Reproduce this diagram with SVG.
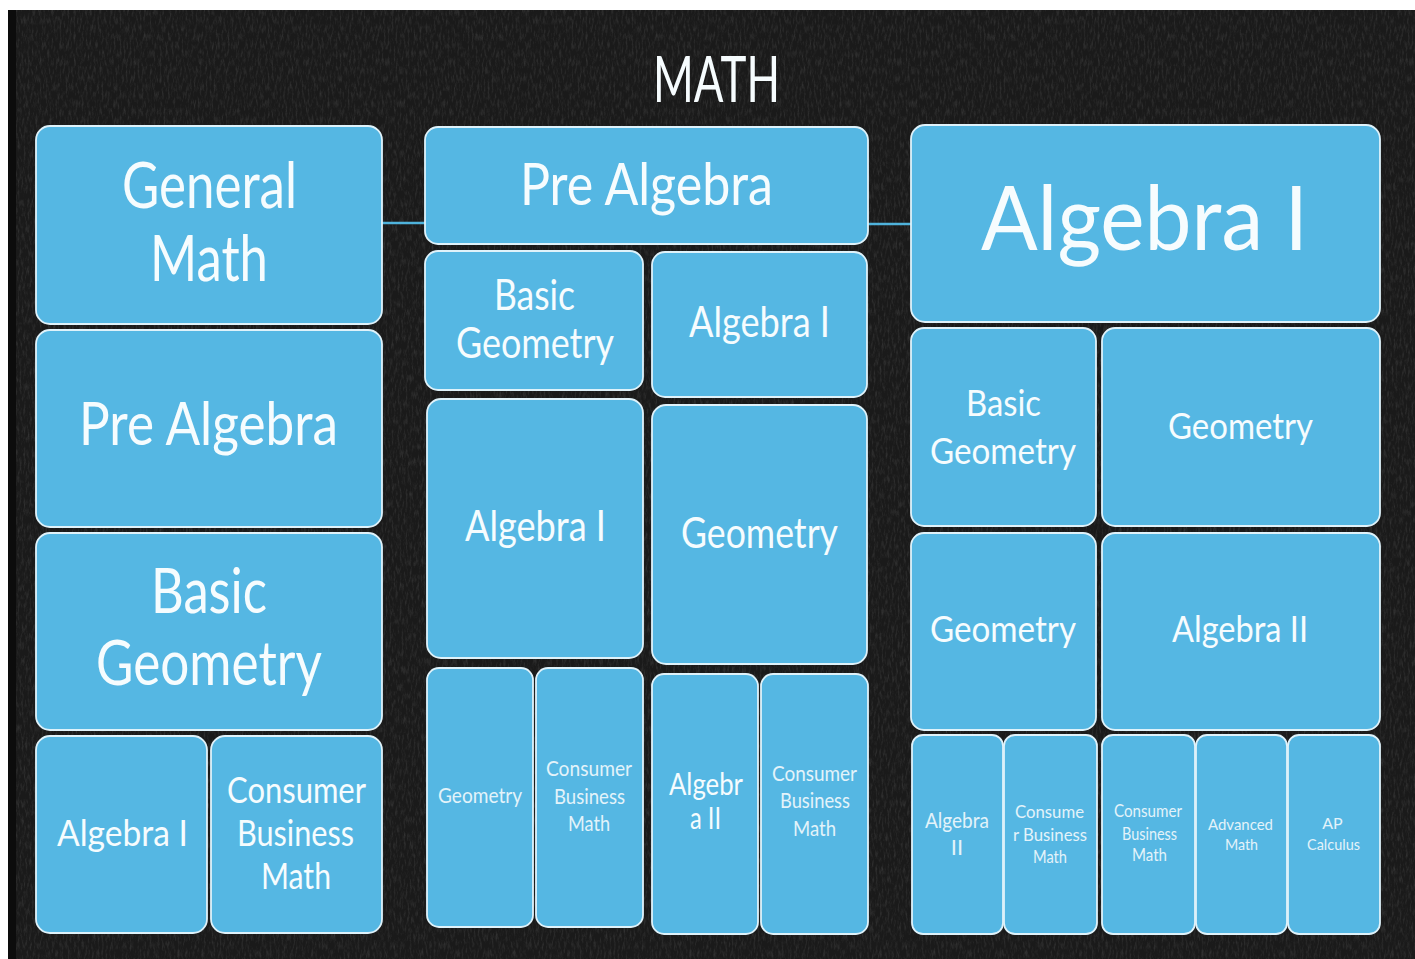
<svg xmlns="http://www.w3.org/2000/svg" width="1415" height="959" viewBox="0 0 1415 959">
<style>
.box{fill:#55b7e3;stroke:#dff2fa;stroke-width:1.8}
.t{font-family:Lato,"Open Sans","Liberation Sans",sans-serif;fill:#f6fcfe;text-anchor:middle}
.s{fill:#e3f3fa}
.conn{stroke:#4fb3dc;stroke-width:2.5;fill:none}
</style>
<defs>
<filter id="chalk" x="0" y="0" width="100%" height="100%">
<feTurbulence type="fractalNoise" baseFrequency="0.5 0.12" numOctaves="4" seed="7" result="n"/>
<feColorMatrix in="n" type="matrix" values="0 0 0 0 1  0 0 0 0 1  0 0 0 0 1  0 0 0 0.5 -0.22"/>
</filter>
</defs>
<rect x="0" y="0" width="1415" height="959" fill="#ffffff"/>
<rect x="8" y="10" width="1407" height="949" fill="#1a1a1a"/>
<rect x="8" y="10" width="1407" height="949" filter="url(#chalk)" opacity="0.45"/>
<rect x="8" y="10" width="8" height="949" fill="#0c0c0c"/>
<text class="t" x="716.5" y="102" font-size="63" textLength="127" lengthAdjust="spacingAndGlyphs">MATH</text>
<g id="connectors">
<line class="conn" x1="382" y1="223" x2="425" y2="223"/>
<line class="conn" x1="868" y1="224" x2="911" y2="224"/>
</g>
<g id="general-math"><rect class="box" x="36" y="126" width="346" height="198" rx="14"/>
<text class="t" x="209.5" y="208" font-size="63" textLength="175" lengthAdjust="spacingAndGlyphs">General</text>
<text class="t" x="209" y="281" font-size="63" textLength="118" lengthAdjust="spacingAndGlyphs">Math</text></g>
<g id="l-pre-algebra"><rect class="box" x="36" y="330" width="346" height="197" rx="14"/>
<text class="t" x="208.5" y="445" font-size="60" textLength="259" lengthAdjust="spacingAndGlyphs">Pre Algebra</text></g>
<g id="l-basic-geometry"><rect class="box" x="36" y="533" width="346" height="197" rx="14"/>
<text class="t" x="209" y="613" font-size="62" textLength="116" lengthAdjust="spacingAndGlyphs">Basic</text>
<text class="t" x="209" y="685" font-size="62" textLength="226" lengthAdjust="spacingAndGlyphs">Geometry</text></g>
<g id="l-algebra1"><rect class="box" x="36" y="736" width="171" height="197" rx="14"/>
<text class="t" x="122.5" y="846" font-size="36" textLength="131" lengthAdjust="spacingAndGlyphs">Algebra I</text></g>
<g id="l-consumer"><rect class="box" x="211" y="736" width="171" height="197" rx="14"/>
<text class="t" x="296.5" y="803" font-size="36" textLength="139" lengthAdjust="spacingAndGlyphs">Consumer</text>
<text class="t" x="295.5" y="846" font-size="36" textLength="117" lengthAdjust="spacingAndGlyphs">Business</text>
<text class="t" x="296" y="889" font-size="36" textLength="70" lengthAdjust="spacingAndGlyphs">Math</text></g>

<g id="m-pre-algebra"><rect class="box" x="425" y="127" width="443" height="117" rx="13"/>
<text class="t" x="646.5" y="205" font-size="58" textLength="253" lengthAdjust="spacingAndGlyphs">Pre Algebra</text></g>
<g id="m-basic-geometry"><rect class="box" x="425" y="251" width="218" height="139" rx="13"/>
<text class="t" x="534.5" y="310" font-size="42" textLength="81" lengthAdjust="spacingAndGlyphs">Basic</text>
<text class="t" x="535" y="358" font-size="42" textLength="158" lengthAdjust="spacingAndGlyphs">Geometry</text></g>
<g id="m-algebra1-small"><rect class="box" x="652" y="252" width="215" height="145" rx="13"/>
<text class="t" x="759.5" y="337" font-size="42" textLength="141" lengthAdjust="spacingAndGlyphs">Algebra I</text></g>
<g id="m-algebra1"><rect class="box" x="427" y="399" width="216" height="259" rx="14"/>
<text class="t" x="535.5" y="541" font-size="42" textLength="141" lengthAdjust="spacingAndGlyphs">Algebra I</text></g>
<g id="m-geometry"><rect class="box" x="652" y="405" width="215" height="259" rx="14"/>
<text class="t" x="759.5" y="548" font-size="42" textLength="157" lengthAdjust="spacingAndGlyphs">Geometry</text></g>
<g id="m-geometry-small"><rect class="box" x="427" y="668" width="106" height="259" rx="12"/>
<text class="t s" x="480" y="803" font-size="21" textLength="84" lengthAdjust="spacingAndGlyphs">Geometry</text></g>
<g id="m-consumer1"><rect class="box" x="536" y="668" width="107" height="259" rx="12"/>
<text class="t s" x="589" y="776" font-size="21" textLength="86" lengthAdjust="spacingAndGlyphs">Consumer</text>
<text class="t s" x="589.5" y="804" font-size="21" textLength="71" lengthAdjust="spacingAndGlyphs">Business</text>
<text class="t s" x="589" y="831" font-size="21" textLength="42" lengthAdjust="spacingAndGlyphs">Math</text></g>
<g id="m-algebra2"><rect class="box" x="652" y="674" width="106" height="260" rx="12"/>
<text class="t" x="706" y="795" font-size="30" textLength="74" lengthAdjust="spacingAndGlyphs">Algebr</text>
<text class="t" x="705.5" y="829" font-size="30" textLength="31" lengthAdjust="spacingAndGlyphs">a II</text></g>
<g id="m-consumer2"><rect class="box" x="761" y="674" width="107" height="260" rx="12"/>
<text class="t s" x="814.5" y="781" font-size="21" textLength="85" lengthAdjust="spacingAndGlyphs">Consumer</text>
<text class="t s" x="815" y="808" font-size="21" textLength="70" lengthAdjust="spacingAndGlyphs">Business</text>
<text class="t s" x="814.5" y="836" font-size="21" textLength="43" lengthAdjust="spacingAndGlyphs">Math</text></g>

<g id="r-algebra1"><rect class="box" x="911" y="125" width="469" height="197" rx="14"/>
<text class="t" x="1144.5" y="250" font-size="90" textLength="327" lengthAdjust="spacingAndGlyphs">Algebra I</text></g>
<g id="r-basic-geometry"><rect class="box" x="911" y="328" width="185" height="198" rx="13"/>
<text class="t" x="1003.5" y="416" font-size="37" textLength="75" lengthAdjust="spacingAndGlyphs">Basic</text>
<text class="t" x="1003" y="464" font-size="37" textLength="146" lengthAdjust="spacingAndGlyphs">Geometry</text></g>
<g id="r-geometry1"><rect class="box" x="1102" y="328" width="278" height="198" rx="13"/>
<text class="t" x="1240.5" y="439" font-size="37" textLength="145" lengthAdjust="spacingAndGlyphs">Geometry</text></g>
<g id="r-geometry2"><rect class="box" x="911" y="533" width="185" height="197" rx="13"/>
<text class="t" x="1003" y="642" font-size="37" textLength="146" lengthAdjust="spacingAndGlyphs">Geometry</text></g>
<g id="r-algebra2"><rect class="box" x="1102" y="533" width="278" height="197" rx="13"/>
<text class="t" x="1240" y="642" font-size="37" textLength="136" lengthAdjust="spacingAndGlyphs">Algebra II</text></g>
<g id="r-algebra2-small"><rect class="box" x="912" y="735" width="91" height="199" rx="11"/>
<text class="t s" x="957" y="828" font-size="22" textLength="64" lengthAdjust="spacingAndGlyphs">Algebra</text>
<text class="t s" x="957" y="855" font-size="22">II</text></g>
<g id="r-consumer1"><rect class="box" x="1004" y="735" width="93" height="199" rx="11"/>
<text class="t s" x="1049.5" y="818" font-size="18" textLength="69" lengthAdjust="spacingAndGlyphs">Consume</text>
<text class="t s" x="1050" y="841" font-size="18" textLength="74" lengthAdjust="spacingAndGlyphs">r Business</text>
<text class="t s" x="1050" y="863" font-size="18" textLength="34" lengthAdjust="spacingAndGlyphs">Math</text></g>
<g id="r-consumer2"><rect class="box" x="1102" y="735" width="93" height="199" rx="11"/>
<text class="t s" x="1148" y="817" font-size="17" textLength="68" lengthAdjust="spacingAndGlyphs">Consumer</text>
<text class="t s" x="1149.5" y="840" font-size="17" textLength="55" lengthAdjust="spacingAndGlyphs">Business</text>
<text class="t s" x="1149.5" y="861" font-size="17" textLength="35" lengthAdjust="spacingAndGlyphs">Math</text></g>
<g id="r-advanced"><rect class="box" x="1196" y="735" width="91" height="199" rx="11"/>
<text class="t s" x="1240.5" y="830" font-size="16" textLength="65" lengthAdjust="spacingAndGlyphs">Advanced</text>
<text class="t s" x="1241.5" y="850" font-size="16" textLength="33" lengthAdjust="spacingAndGlyphs">Math</text></g>
<g id="r-ap-calculus"><rect class="box" x="1288" y="735" width="92" height="199" rx="11"/>
<text class="t s" x="1332.5" y="829" font-size="16">AP</text>
<text class="t s" x="1333.5" y="850" font-size="16" textLength="53" lengthAdjust="spacingAndGlyphs">Calculus</text></g>
</svg>
